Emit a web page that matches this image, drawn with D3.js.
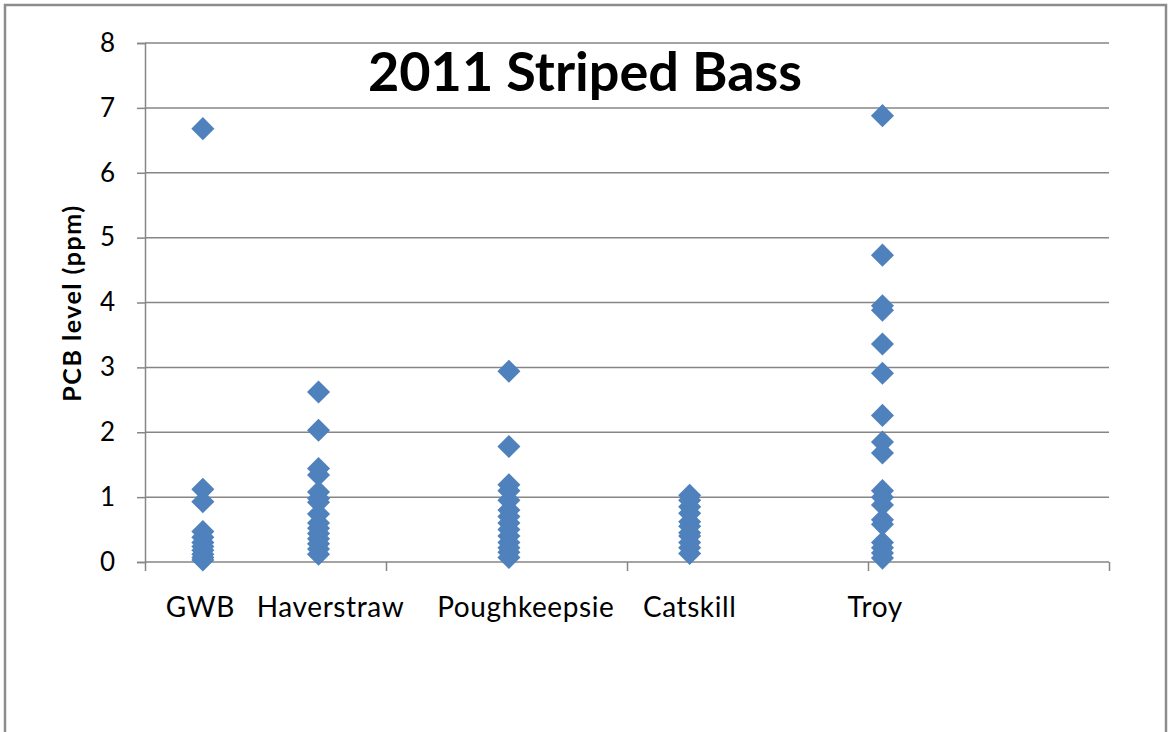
<!DOCTYPE html>
<html>
<head>
<meta charset="utf-8">
<script src="https://cdn.jsdelivr.net/npm/d3@7"></script>
<style>
  body { margin: 0; background: #fff; }
  svg text { font-family: Lato, "Open Sans", sans-serif; fill: #000; }
</style>
</head>
<body>
<div id="chart"></div>
<script>
// sampling sites along the Hudson (river mile) and PCB readings at each
var sites = ["GWB", "Haverstraw", "Poughkeepsie", "Catskill", "Troy"];
var siteMiles = [12, 36, 75.5, 113, 153];
var labelMiles = [11.5, 38.5, 79, 113, 151.5];

var gwb = [6.68, 1.12, 0.93, 0.47, 0.38, 0.3, 0.24, 0.18, 0.12, 0.07, 0.03];
var haverstraw = [2.62, 2.03, 1.44, 1.34, 1.08, 0.98, 0.92, 0.74, 0.6, 0.52, 0.44, 0.36, 0.28, 0.2, 0.12];
var poughkeepsie = [2.94, 1.78, 1.19, 1.1, 0.95, 0.8, 0.7, 0.6, 0.5, 0.4, 0.3, 0.22, 0.15, 0.07];
var catskill = [1.03, 0.95, 0.85, 0.75, 0.62, 0.55, 0.45, 0.4, 0.3, 0.22, 0.13];
var troy = [6.88, 4.73, 3.95, 3.88, 3.36, 2.91, 2.26, 1.85, 1.68, 1.1, 1.0, 0.88, 0.65, 0.58, 0.3, 0.22, 0.14, 0.06];

var yTicks = [0, 1, 2, 3, 4, 5, 6, 7, 8];
var xTicks = [0, 50, 100, 150, 200];

var readings = [gwb, haverstraw, poughkeepsie, catskill, troy];

var width = 1168, height = 732;
var margin = {top: 43, right: 59, bottom: 170, left: 145};

var svg = d3.select("#chart").append("svg")
    .attr("width", width)
    .attr("height", height);

// outer frame
svg.append("rect")
    .attr("x", 5).attr("y", 5)
    .attr("width", 1161).attr("height", 740)
    .attr("fill", "none")
    .attr("stroke", "#8c8c8c")
    .attr("stroke-width", 2.5);

var x = d3.scaleLinear().domain([0, 200]).range([margin.left, width - margin.right]);
var y = d3.scaleLinear().domain([0, 8]).range([height - margin.bottom, margin.top]);

// gridlines + y axis
var yAxis = svg.append("g")
    .attr("transform", "translate(" + margin.left + ",0)")
    .call(d3.axisLeft(y).tickValues(yTicks).tickSize(8).tickPadding(22));
yAxis.select(".domain").attr("stroke", "#868686").attr("stroke-width", 1.5);
yAxis.selectAll(".tick line").attr("stroke", "#868686").attr("stroke-width", 1.5);
yAxis.selectAll(".tick text").attr("font-size", 26).attr("fill", "#000");

svg.append("g")
    .selectAll("line")
    .data(yTicks.slice(1))
    .join("line")
    .attr("x1", margin.left)
    .attr("x2", width - margin.right)
    .attr("y1", function (d) { return y(d); })
    .attr("y2", function (d) { return y(d); })
    .attr("stroke", "#868686")
    .attr("stroke-width", 1.5);

// x axis (tick marks only)
var xAxis = svg.append("g")
    .attr("transform", "translate(0," + y(0) + ")")
    .call(d3.axisBottom(x).tickValues(xTicks).tickSize(9).tickFormat(""));
xAxis.select(".domain").attr("stroke", "#868686").attr("stroke-width", 1.5).attr("d",
    "M" + x(0) + ",0H" + x(200));
xAxis.selectAll(".tick line").attr("stroke", "#868686").attr("stroke-width", 1.5);

// site labels
svg.append("g")
    .selectAll("text")
    .data(sites)
    .join("text")
    .attr("x", function (d, i) { return x(labelMiles[i]); })
    .attr("y", 617)
    .attr("text-anchor", "middle")
    .attr("font-size", 28)
    .attr("letter-spacing", 0.6)
    .text(function (d) { return d; });

// points
var points = [];
readings.forEach(function (vals, i) {
    vals.forEach(function (v) {
        points.push({mile: siteMiles[i], value: v});
    });
});

var diamond = d3.symbol().type(d3.symbolDiamond2).size(340);

svg.append("g")
    .selectAll("path")
    .data(points)
    .join("path")
    .attr("transform", function (d) {
        return "translate(" + x(d.mile) + "," + y(d.value) + ")";
    })
    .attr("d", diamond)
    .attr("fill", "#4f81bd");

// title
svg.append("text")
    .attr("x", 585)
    .attr("y", 91)
    .attr("text-anchor", "middle")
    .attr("font-size", 54)
    .attr("font-weight", "bold")
    .text("2011 Striped Bass");

// y axis title
svg.append("text")
    .attr("transform", "translate(81," + 303 + ") rotate(-90)")
    .attr("text-anchor", "middle")
    .attr("font-size", 25)
    .attr("font-weight", "bold")
    .attr("letter-spacing", 1.5)
    .text("PCB level (ppm)");
</script>
</body>
</html>
